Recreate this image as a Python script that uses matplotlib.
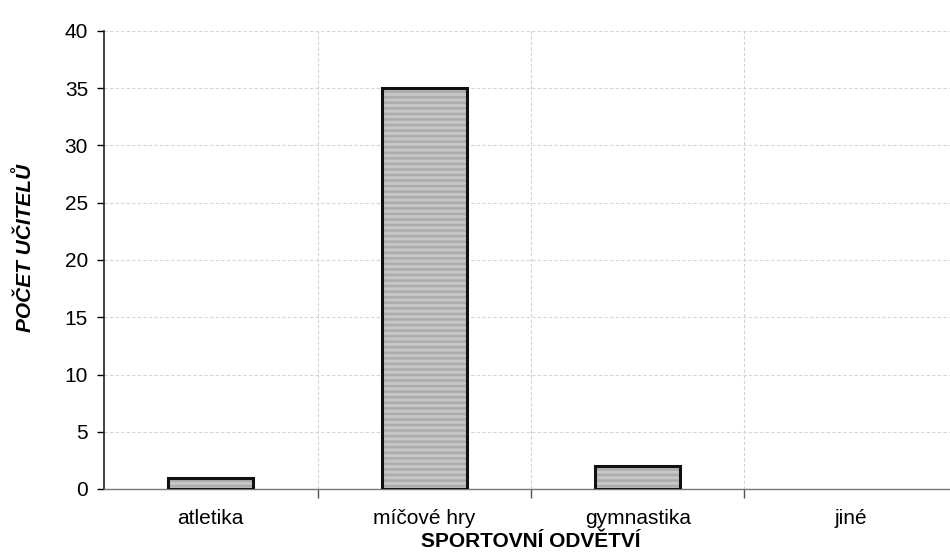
import matplotlib
matplotlib.use("Agg")
import matplotlib.pyplot as plt
import numpy as np

categories = ["atletika", "míčové hry", "gymnastika", "jiné"]
teachers = [1, 35, 2, 0]
y_ticks = [0, 5, 10, 15, 20, 25, 30, 35, 40]

plt.rcParams["font.family"] = ["Liberation Sans", "DejaVu Sans"]
plt.rcParams["hatch.linewidth"] = 1.8

W, H = 950, 557
fig = plt.figure(figsize=(W / 100, H / 100), dpi=100)
left, right, top, bottom = 104, 958, 31, 489
ax = fig.add_axes([left / W, 1 - bottom / H, (right - left) / W, (bottom - top) / H])

x = np.arange(len(categories))
# striped grey fill, then a black outline on top (zero-height bars stay invisible)
ax.bar(x, teachers, width=0.4, color="#c6c6c6", edgecolor="#acacac",
       linewidth=0, hatch="---", zorder=3)
ax.bar(x, teachers, width=0.4, fill=False, edgecolor="#111111",
       linewidth=[2.2 if v > 0 else 0 for v in teachers], zorder=4)

ax.set_xlim(-0.5, len(categories) - 0.5)
ax.set_ylim(0, 40)
ax.set_yticks(y_ticks)
ax.set_yticklabels([str(v) for v in y_ticks], fontsize=15)
ax.set_xticks(x)
ax.set_xticklabels(categories, fontsize=15)
ax.tick_params(axis="x", length=0, pad=14.5)
ax.tick_params(axis="y", length=5, width=1, direction="out", pad=6.5)

# category separators on the value axis
boundaries = np.arange(len(categories) - 1) + 0.5
ax.vlines(boundaries, 0, 40, colors="#d2d2d2", linewidth=0.8,
          linestyles=(0, (3, 2)), zorder=1)
ax.vlines(boundaries, -0.8, 0, colors="#555555", linewidth=1, clip_on=False)

ax.yaxis.grid(True, color="#d6d6d6", linewidth=0.8, linestyle=(0, (3, 2)), zorder=0)
for s in ["top", "right"]:
    ax.spines[s].set_visible(False)
ax.spines["left"].set_color("#222222")
ax.spines["left"].set_linewidth(1.2)
ax.spines["bottom"].set_color("#777777")
ax.spines["bottom"].set_linewidth(1.0)

ax.set_xlabel("SPORTOVNÍ ODVĚTVÍ", fontsize=15, fontweight="bold", labelpad=3)
fig.text(25 / W, 1 - 248 / H, "POČET UČITELŮ", fontsize=15,
         fontweight="bold", style="italic", rotation=90, ha="center", va="center")

fig.savefig("out.png", dpi=100)
